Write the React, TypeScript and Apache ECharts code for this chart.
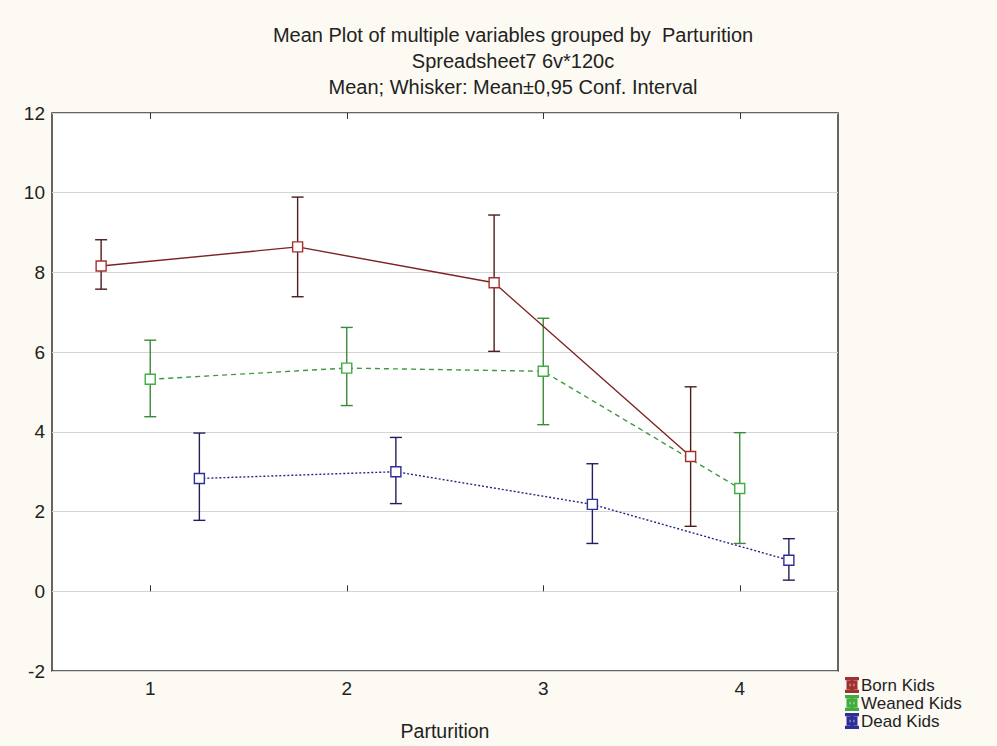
import React, { useEffect, useRef } from "react";
import * as echarts from "echarts";

const categories = ["1", "2", "3", "4"];
const seriesNames = ["Born Kids", "Weaned Kids", "Dead Kids"];
const offsets = [-0.25, 0, 0.25];
const bornMean = [8.16, 8.64, 7.74, 3.38];
const bornLow = [7.58, 7.39, 6.02, 1.63];
const bornHigh = [8.82, 9.89, 9.44, 5.13];
const weanedMean = [5.32, 5.6, 5.52, 2.58];
const weanedLow = [4.38, 4.66, 4.18, 1.2];
const weanedHigh = [6.3, 6.62, 6.85, 3.98];
const deadMean = [2.83, 3.0, 2.18, 0.78];
const deadLow = [1.78, 2.2, 1.2, 0.28];
const deadHigh = [3.97, 3.86, 3.2, 1.32];
const yTicks = [-2, 0, 2, 4, 6, 8, 10, 12];

const FONT = "'Liberation Sans', Arial, sans-serif";
const lineColors = ["#7e2222", "#3f9a3f", "#25257e"];
const markerColors = ["#a33030", "#3fae3f", "#2e2e99"];
const whiskerColors = ["#4e1c1c", "#3a8a3a", "#1f1f5c"];
const lineTypes: any[] = ["solid", [5, 4], [2, 2]];

const legendIcon =
  "path://M0,0H12V1.3H0Z M0,12.7H12V14H0Z M5.4,0H6.6V14H5.4Z " +
  "M1.5,3.5H10.5V4.7H1.5Z M1.5,9.3H10.5V10.5H1.5Z M1.5,3.5H2.7V10.5H1.5Z M9.3,3.5H10.5V10.5H9.3Z";

export default function App() {
  const ref = useRef<HTMLDivElement>(null);
  useEffect(() => {
    if (!ref.current) return;
    const chart = echarts.init(ref.current, undefined, { renderer: "svg" });
    const means = [bornMean, weanedMean, deadMean];
    const lows = [bornLow, weanedLow, deadLow];
    const highs = [bornHigh, weanedHigh, deadHigh];

    const series: any[] = [];
    seriesNames.forEach((name, i) => {
      series.push({
        name: name + " CI",
        type: "custom",
        xAxisIndex: 1,
        yAxisIndex: 0,
        z: 2,
        silent: true,
        encode: { x: 0, y: [1, 2] },
        data: categories.map((c, k) => [Number(c) + offsets[i], lows[i][k], highs[i][k]]),
        renderItem: (params: any, api: any) => {
          const x = api.value(0);
          const lo = api.coord([x, api.value(1)]);
          const hi = api.coord([x, api.value(2)]);
          const hw = 6;
          const st = { stroke: whiskerColors[i], lineWidth: 1.4 };
          return {
            type: "group",
            children: [
              { type: "line", shape: { x1: hi[0], y1: hi[1], x2: lo[0], y2: lo[1] }, style: st },
              { type: "line", shape: { x1: hi[0] - hw, y1: hi[1], x2: hi[0] + hw, y2: hi[1] }, style: st },
              { type: "line", shape: { x1: lo[0] - hw, y1: lo[1], x2: lo[0] + hw, y2: lo[1] }, style: st },
            ],
          };
        },
      });
    });
    seriesNames.forEach((name, i) => {
      series.push({
        name,
        type: "line",
        xAxisIndex: 1,
        yAxisIndex: 0,
        z: 3,
        color: lineColors[i],
        symbol: "rect",
        symbolSize: 10,
        itemStyle: { color: "#ffffff", borderColor: markerColors[i], borderWidth: 1.4 },
        lineStyle: { color: lineColors[i], width: 1.4, type: lineTypes[i] },
        data: categories.map((c, k) => [Number(c) + offsets[i], means[i][k]]),
      });
    });

    chart.setOption({
      animation: false,
      backgroundColor: "#fcfaf2",
      textStyle: { fontFamily: FONT },
      title: {
        text: "Mean Plot of multiple variables grouped by  Parturition\nSpreadsheet7 6v*120c\nMean; Whisker: Mean±0,95 Conf. Interval",
        left: 508,
        top: 17,
        textAlign: "center",
        textStyle: { fontFamily: FONT, fontSize: 20, fontWeight: "normal", color: "#222", lineHeight: 26 },
      },
      legend: {
        data: seriesNames.map((n, i) => ({ name: n, icon: legendIcon, itemStyle: { color: lineColors[i] } })),
        orient: "vertical",
        left: 845,
        top: 676,
        padding: 0,
        itemGap: 0,
        itemWidth: 12,
        itemHeight: 14,
        textStyle: { fontFamily: FONT, fontSize: 17, lineHeight: 18, color: "#222", padding: [0, 0, 0, -2] },
      },
      grid: {
        left: 52,
        right: 159,
        top: 113,
        bottom: 74,
        show: true,
        backgroundColor: "#ffffff",
        borderColor: "#333333",
        borderWidth: 1.5,
      },
      xAxis: [
        {
          type: "category",
          data: categories,
          position: "bottom",
          boundaryGap: true,
          axisLine: { show: false },
          axisTick: { show: true, inside: true, alignWithLabel: true, length: 6, lineStyle: { color: "#333" } },
          axisLabel: { fontFamily: FONT, fontSize: 19, color: "#222", margin: 8 },
          splitLine: { show: false },
          name: "Parturition",
          nameLocation: "middle",
          nameGap: 50,
          nameTextStyle: { fontFamily: FONT, fontSize: 19.5, color: "#222" },
        },
        {
          type: "value",
          min: 0.5,
          max: 4.5,
          show: false,
        },
        {
          type: "category",
          data: categories,
          position: "top",
          boundaryGap: true,
          axisLine: { show: false },
          axisTick: { show: true, inside: true, alignWithLabel: true, length: 6, lineStyle: { color: "#333" } },
          axisLabel: { show: false },
          splitLine: { show: false },
        },
      ],
      yAxis: [
        {
          type: "value",
          min: yTicks[0],
          max: yTicks[yTicks.length - 1],
          interval: 2,
          axisLine: { show: false },
          axisTick: { show: false },
          axisLabel: { fontFamily: FONT, fontSize: 19, color: "#222", margin: 7 },
          splitLine: { show: true, lineStyle: { color: "#d4d4d4", width: 1 } },
        },
      ],
      series,
    });
    return () => chart.dispose();
  }, []);
  return <div ref={ref} style={{ position: "fixed", left: 0, top: 0, width: 997, height: 746 }} />;
}
